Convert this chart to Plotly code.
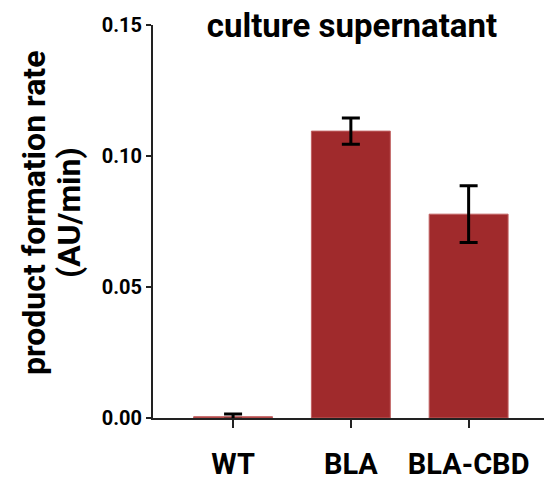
import plotly.graph_objects as go

categories = ["WT", "BLA", "BLA-CBD"]
values = [0.0005, 0.1095, 0.0778]
errors = [0.0010, 0.0050, 0.0108]
y_ticks = [0.0, 0.05, 0.10, 0.15]
y_tick_labels = ["0.00", "0.05", "0.10", "0.15"]
y_title_lines = ["product formation rate", "(AU/min)"]

fig = go.Figure()
fig.add_trace(go.Bar(
    x=categories, y=values,
    marker=dict(color="#A02A2C", line=dict(color="#C06060", width=1)),
    width=0.67,
    error_y=dict(type="data", array=errors, visible=True, color="black",
                 thickness=3, width=9),
))

font_family = "Roboto"
fig.update_layout(
    width=544, height=481,
    margin=dict(l=153, r=0, t=25, b=63, autoexpand=False),
    paper_bgcolor="white", plot_bgcolor="white",
    showlegend=False,
    title=dict(text="culture supernatant", x=0.647, xanchor="center",
               xref="container", y=1 - 25 / 481, yanchor="middle", yref="container",
               font=dict(family=font_family, size=33, color="black", weight="bold")),
    font=dict(family=font_family, color="black"),
)
for line_text, px_center in zip(y_title_lines, [34, 69]):
    fig.add_annotation(
        text=line_text, textangle=-90,
        xref="paper", yref="paper", x=(px_center - 153) / 391, y=(418 - 213) / 393,
        xanchor="center", yanchor="middle", showarrow=False,
        font=dict(family=font_family, size=32, color="black", weight="bold"),
    )
fig.update_xaxes(
    range=[-0.68, 2.64], showline=True, linecolor="#222", linewidth=2,
    ticks="outside", ticklen=8, tickwidth=2, tickcolor="#222",
    tickfont=dict(family=font_family, size=29, color="black", weight="bold"),
    ticklabelstandoff=11, showgrid=False, zeroline=False, automargin=False,
)
fig.update_yaxes(
    range=[0, 0.15], tickvals=y_ticks, ticktext=y_tick_labels,
    showline=True, linecolor="#222", linewidth=2,
    ticks="outside", ticklen=5, tickwidth=2, tickcolor="#222",
    tickfont=dict(family=font_family, size=20, color="black", weight="bold"),
    showgrid=False, zeroline=False, automargin=False,
)
fig.write_html("out.html")
